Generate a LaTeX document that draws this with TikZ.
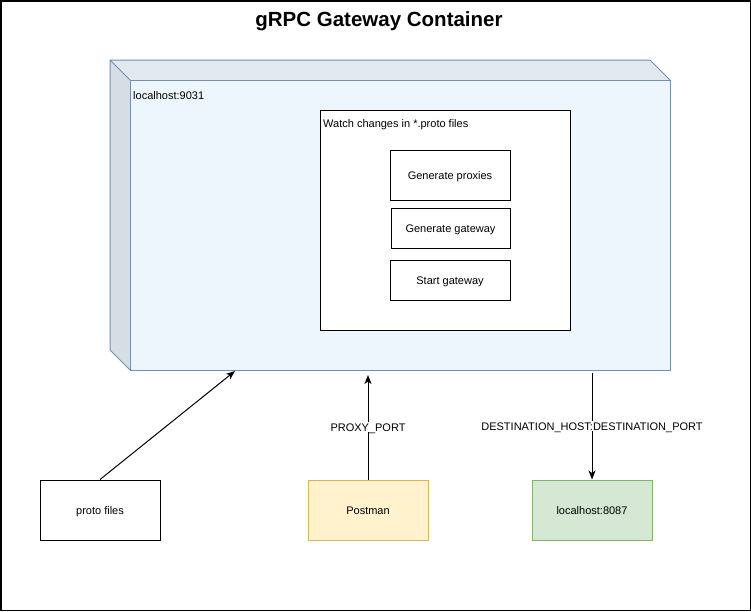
\documentclass[tikz,border=0pt]{standalone}
\usepackage{fontspec}
\setmainfont{Liberation Sans}
\usetikzlibrary{arrows.meta}

\definecolor{faceblue}{HTML}{EEF6FD}
\definecolor{topgrey}{HTML}{E1E8EE}
\definecolor{sidegrey}{HTML}{D6DEE4}
\definecolor{cubeedge}{HTML}{7090B8}
\definecolor{postfill}{HTML}{FFF2CC}
\definecolor{postedge}{HTML}{D6B656}
\definecolor{hostfill}{HTML}{D5E8D4}
\definecolor{hostedge}{HTML}{82B366}

\begin{document}
\begin{tikzpicture}[x=1pt, y=-1pt,
	every node/.style={font=\fontsize{11}{13}\selectfont},
	box/.style={draw, line width=1pt, minimum width=120pt, minimum height=60pt, inner sep=0pt,
		text height=8pt, text depth=0pt},
	stepbox/.style={draw, line width=1pt, fill=white, minimum width=120pt, minimum height=40pt, inner sep=0pt,
		text height=8pt, text depth=0pt},
	link/.style={line width=1pt, -{Stealth[length=9pt, width=7pt, inset=2.5pt]}},
	lbl/.style={fill=white, inner sep=1pt, text height=8pt, text depth=0pt}]
	% frame
	\useasboundingbox (0,0) rectangle (751,611);
	\draw[line width=1.5pt] (0.75,0.75) rectangle (750.25,610.25);
	\node[font=\fontsize{20.5}{24}\bfseries] (title) at (379,21) {gRPC Gateway Container};
	% cube: top and left faces, then front face
	\fill[topgrey] (110,60) -- (650,60) -- (670,80) -- (130,80) -- cycle;
	\fill[sidegrey] (110,60) -- (130,80) -- (130,370) -- (110,350) -- cycle;
	\draw[cubeedge, line width=1pt, line join=round] (130,80) -- (110,60) -- (650,60) -- (670,80);
	\draw[cubeedge, line width=1pt, line join=round] (110,60) -- (110,350) -- (130,370);
	\node[draw=cubeedge, fill=faceblue, line width=1pt, minimum width=540pt, minimum height=290pt,
		inner sep=0pt, anchor=north west] (cube) at (130,80) {};
	\node[anchor=west, inner sep=0pt] (port) at (133,96) {localhost:9031};
	% watcher and its steps
	\node[draw, line width=1pt, fill=white, minimum width=250pt, minimum height=220pt,
		inner sep=0pt, anchor=north west] (watch) at (320,110) {};
	\node[anchor=west, inner sep=0pt] (watchtxt) at (323,125) {Watch changes in *.proto files};
	\node[stepbox, minimum height=50pt] (proxies) at (450,175) {Generate proxies};
	\node[stepbox, minimum width=119pt] (gateway) at (450.5,228) {Generate gateway};
	\node[stepbox] (start) at (450,280) {Start gateway};
	% outside the container
	\node[box] (proto) at (100,510) {proto files};
	\node[box, draw=postedge, fill=postfill] (postman) at (368,510) {Postman};
	\node[box, draw=hostedge, fill=hostfill] (dest) at (592,510) {localhost:8087};
	\coordinate (protoin) at (235,371);
	\coordinate (proxyin) at (368,375);
	\coordinate (destout) at (592,373);
	% connectors
	\draw[link] (proto.north) -- (protoin);
	\draw[link] (postman.north) -- node[lbl] {PROXY\_PORT} (proxyin);
	\draw[link] (destout) -- node[lbl] {DESTINATION\_HOST:DESTINATION\_PORT} (dest.north);
\end{tikzpicture}
\end{document}
